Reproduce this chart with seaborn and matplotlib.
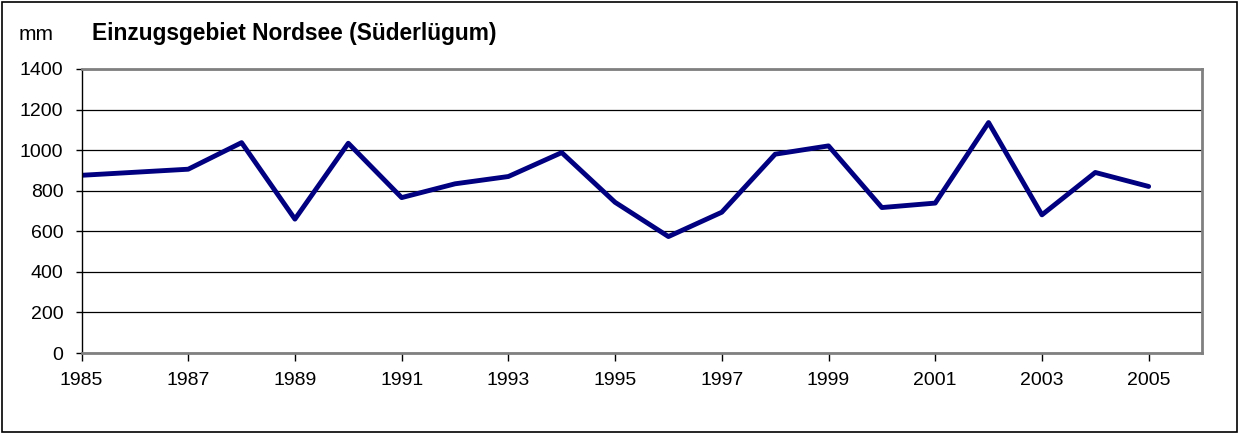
import matplotlib
matplotlib.use("Agg")
import matplotlib.pyplot as plt
import pandas as pd
import seaborn as sns

years = list(range(1985, 2006))
precip_mm = [876, 891, 906, 1037, 660, 1034, 766, 834, 870, 988, 743,
             574, 694, 980, 1021, 717, 739, 1136, 681, 890, 821]
y_ticks = [0, 200, 400, 600, 800, 1000, 1200, 1400]
x_ticks = list(range(1985, 2006, 2))

title = "Einzugsgebiet Nordsee (Süderlügum)"
unit_label = "mm"

sns.set_theme(style="white")
plt.rcParams["font.family"] = ["Liberation Sans", "DejaVu Sans"]
plt.rcParams["text.color"] = "#000000"

df = pd.DataFrame({"Jahr": years, "Niederschlag": precip_mm})

fig = plt.figure(figsize=(12.39, 4.34), dpi=100)
ax = fig.add_axes([81.5 / 1239, 1 - 353 / 434, (1202 - 81.5) / 1239, (353 - 69) / 434])

sns.lineplot(data=df, x="Jahr", y="Niederschlag", ax=ax, color="#000080", linewidth=3.5)

ax.set_xlim(1985, 2006)
ax.set_ylim(0, 1400)
ax.set_xticks(x_ticks)
ax.set_yticks(y_ticks)
ax.set_xlabel("")
ax.set_ylabel("")
ax.grid(axis="y", color="#000000", linewidth=0.9)
ax.set_axisbelow(True)

for side in ["top", "right", "bottom"]:
    ax.spines[side].set_color("#808080")
    ax.spines[side].set_linewidth(2)
ax.spines["left"].set_color("#000000")
ax.spines["left"].set_linewidth(1)

ax.tick_params(axis="both", which="major", direction="out", width=1,
               color="#000000", labelsize=14, labelcolor="#000000",
               bottom=True, left=True)
ax.tick_params(axis="x", length=5.5, pad=8.5)
ax.tick_params(axis="y", length=4.5, pad=8.5)

fig.text(18.5 / 1239, 1 - 39.5 / 434, unit_label, fontsize=15, color="#000000",
         va="baseline", ha="left")
fig.text(92 / 1239, 1 - 40 / 434, title, fontsize=16.4, fontweight="bold",
         color="#000000", va="baseline", ha="left")

# outer frame around the whole chart
fig.patches.append(plt.Rectangle((0.002, 0.004), 0.996, 0.992, transform=fig.transFigure,
                                 fill=False, edgecolor="#000000", linewidth=1.2))

fig.savefig("out.png", dpi=100)
